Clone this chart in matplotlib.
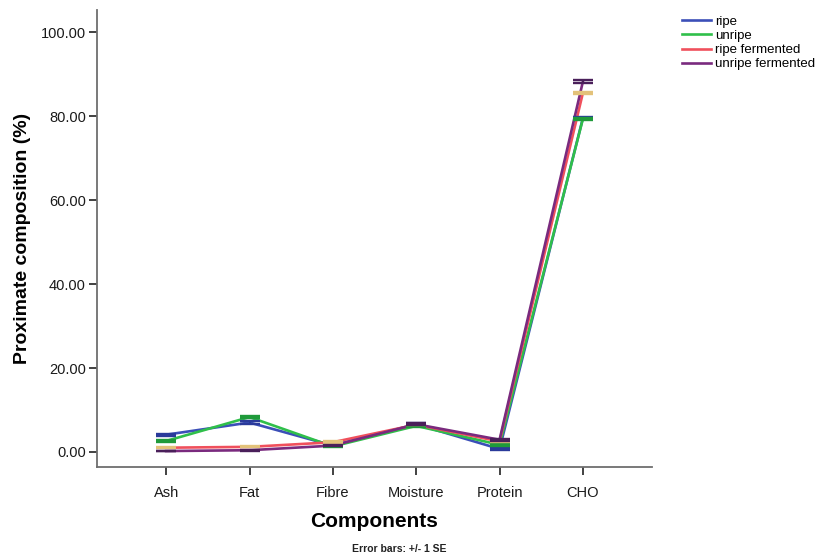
import matplotlib
matplotlib.use("Agg")
import matplotlib.pyplot as plt
import numpy as np

plt.rcParams["font.family"] = ["Liberation Sans", "DejaVu Sans"]

components = ["Ash", "Fat", "Fibre", "Moisture", "Protein", "CHO"]

# mean values (%) per sample
ripe = [4.1, 7.0, 1.5, 6.6, 0.7, 79.6]
unripe = [2.6, 8.3, 1.3, 6.2, 1.7, 79.4]
ripe_fermented = [1.0, 1.2, 2.3, 6.5, 2.5, 85.6]
unripe_fermented = [0.2, 0.4, 1.5, 6.6, 2.9, 88.3]

# standard errors
se_ripe = [0.2, 0.3, 0.2, 0.2, 0.2, 0.3]
se_unripe = [0.2, 0.3, 0.2, 0.2, 0.2, 0.3]
se_ripe_fermented = [0.1, 0.1, 0.2, 0.2, 0.2, 0.2]
se_unripe_fermented = [0.1, 0.1, 0.2, 0.2, 0.2, 0.3]

series = [
    ("ripe", ripe, se_ripe, "#3b4fb8", "#2a3a9a"),
    ("unripe", unripe, se_unripe, "#2fbf4a", "#1f9a3a"),
    ("ripe fermented", ripe_fermented, se_ripe_fermented, "#f0505c", "#e3c27a"),
    ("unripe fermented", unripe_fermented, se_unripe_fermented, "#7a2a7e", "#4a1f5a"),
]

fig = plt.figure(figsize=(8.31, 5.57), dpi=100)
ax = fig.add_axes([0.1167, 0.1616, 0.668, 0.820])

x = np.arange(len(components))
for name, vals, se, col, capcol in series:
    ax.plot(x, vals, color=col, lw=1.9, label=name, zorder=3)
    ax.errorbar(x, vals, yerr=se, fmt="none", ecolor=capcol, elinewidth=1.3,
                capsize=7.5, capthick=1.7, zorder=4)

ax.set_xlim(-0.83, 5.83)
ax.set_ylim(-3.6, 105.3)
ax.set_xticks(x)
ax.set_xticklabels(components)
ax.set_yticks([0, 20, 40, 60, 80, 100])
ax.set_yticklabels(["%.2f" % v for v in [0, 20, 40, 60, 80, 100]])

for side in ["top", "right"]:
    ax.spines[side].set_visible(False)
for side in ["left", "bottom"]:
    ax.spines[side].set_color("#6e6e6e")
    ax.spines[side].set_linewidth(1.3)

ax.tick_params(axis="both", direction="out", length=6, width=1.3,
               color="#333333", labelsize=10.5, labelcolor="#1a1a1a")
ax.tick_params(axis="x", pad=8)
ax.tick_params(axis="y", pad=2)

ax.set_ylabel("Proximate composition (%)", fontsize=14, fontweight="bold", labelpad=7)
ax.set_xlabel("Components", fontsize=15, fontweight="bold", labelpad=8)

fig.text(0.48, 0.006, "Error bars: +/- 1 SE", fontsize=7.5, fontweight="bold",
         ha="center", va="bottom", color="#222222")

leg = ax.legend(loc="upper left", bbox_to_anchor=(1.045, 1.0), frameon=False,
                fontsize=9.5, handlelength=2.2, handletextpad=0.3,
                labelspacing=0.15, borderaxespad=0)

fig.savefig("out.png", dpi=100)
